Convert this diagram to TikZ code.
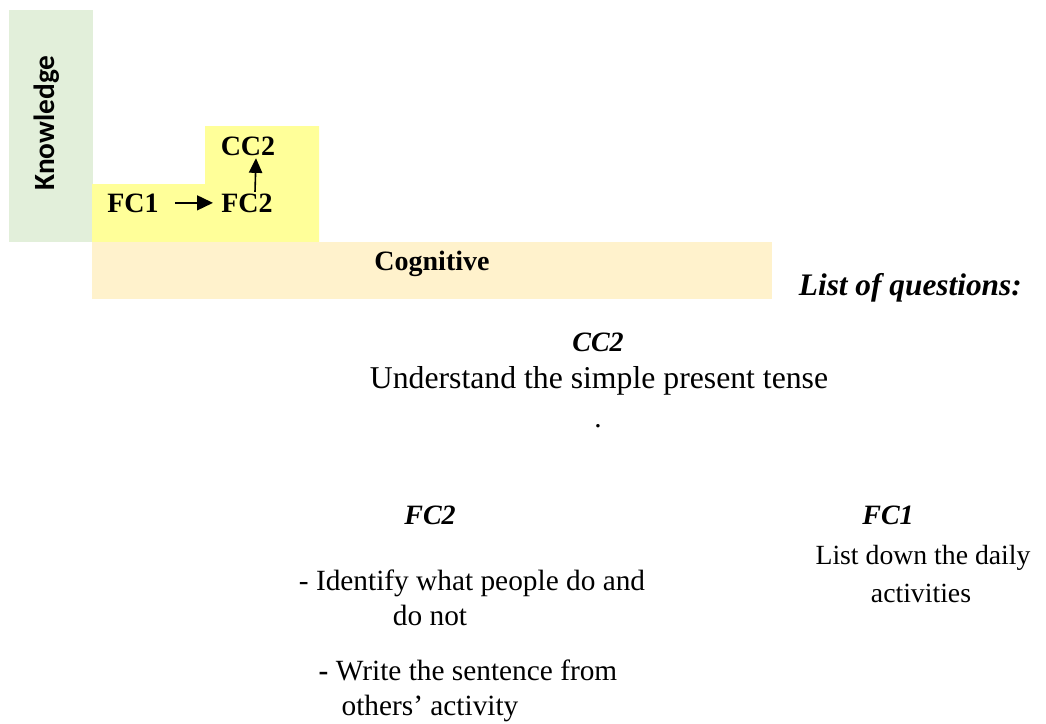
\documentclass[tikz,border=0pt]{standalone}
\usepackage{fontspec}
\setmainfont{Liberation Serif}
\newfontfamily\kfont{Carlito}
\usetikzlibrary{arrows.meta}
\definecolor{kgreen}{HTML}{E2EFDA}
\definecolor{lyellow}{HTML}{FFFF99}
\definecolor{cogcol}{HTML}{FFF2CC}
\tikzset{
  lbl/.style={font=\fontsize{21}{25}\selectfont\bfseries, inner sep=0pt, anchor=base},
  head/.style={font=\fontsize{21}{25}\selectfont\bfseries\itshape, inner sep=0pt, anchor=base},
  body/.style={font=\fontsize{22}{29}\selectfont, inner sep=0pt, anchor=base, align=center},
  conn/.style={line width=1.7pt, -{Triangle[length=12pt,width=11pt]}},
  connv/.style={line width=1.2pt, -{Triangle[length=11pt,width=10pt]}},
}
\begin{document}
\begin{tikzpicture}[x=0.75pt,y=-0.75pt]
\useasboundingbox (0,0) rectangle (1046,724);
% backgrounds
\fill[kgreen] (9,10) rectangle (93,242);
\fill[lyellow] (92,184) -- (205,184) -- (205,126) -- (319,126) -- (319,242) -- (92,242) -- cycle;
\fill[cogcol] (92,242) rectangle (772,299);
% labels
\node[font=\fontsize{22}{26}\selectfont\kfont\bfseries, rotate=90, inner sep=0pt] (know) at (47,123) {Knowledge};
\node[lbl] (fc1) at (133,212) {FC1};
\node[lbl] (fc2) at (247,212) {FC2};
\node[lbl] (cc2) at (248,155) {CC2};
\node[lbl] (cog) at (432,270) {Cognitive};
\draw[conn] ([xshift=12pt]fc1.east) -- ([xshift=-6pt]fc2.west |- fc1.east);
\draw[connv] ([xshift=6pt,yshift=1pt]fc2.north) -- ([xshift=6pt,yshift=-2pt]cc2.south);
% list
\node[head, font=\fontsize{23.5}{28}\selectfont\bfseries\itshape, anchor=base east] (lq) at (1022,295) {List of questions:};
\node[head] (hcc2) at (598,351) {CC2};
\node[body, font=\fontsize{23.8}{29}\selectfont] (und) at (599,388) {Understand the simple present tense};
\node[body] (dot) at (598,427) {.};
\node[head] (hfc2) at (430,524) {FC2};
\node[head] (hfc1) at (888,524) {FC1};
\node[body, font=\fontsize{20.8}{28}\selectfont] (l1a) at (923,564) {List down the daily};
\node[body, font=\fontsize{20.8}{28}\selectfont] (l1b) at (921,602) {activities};
\node[body] (i1a) at (472,590) {- Identify what people do and};
\node[body] (i1b) at (430,625) {do not};
\node[body] (w1a) at (468,680) {\textbf{-} Write the sentence from};
\node[body] (w1b) at (430,715) {others’ activity};
\end{tikzpicture}
\end{document}
